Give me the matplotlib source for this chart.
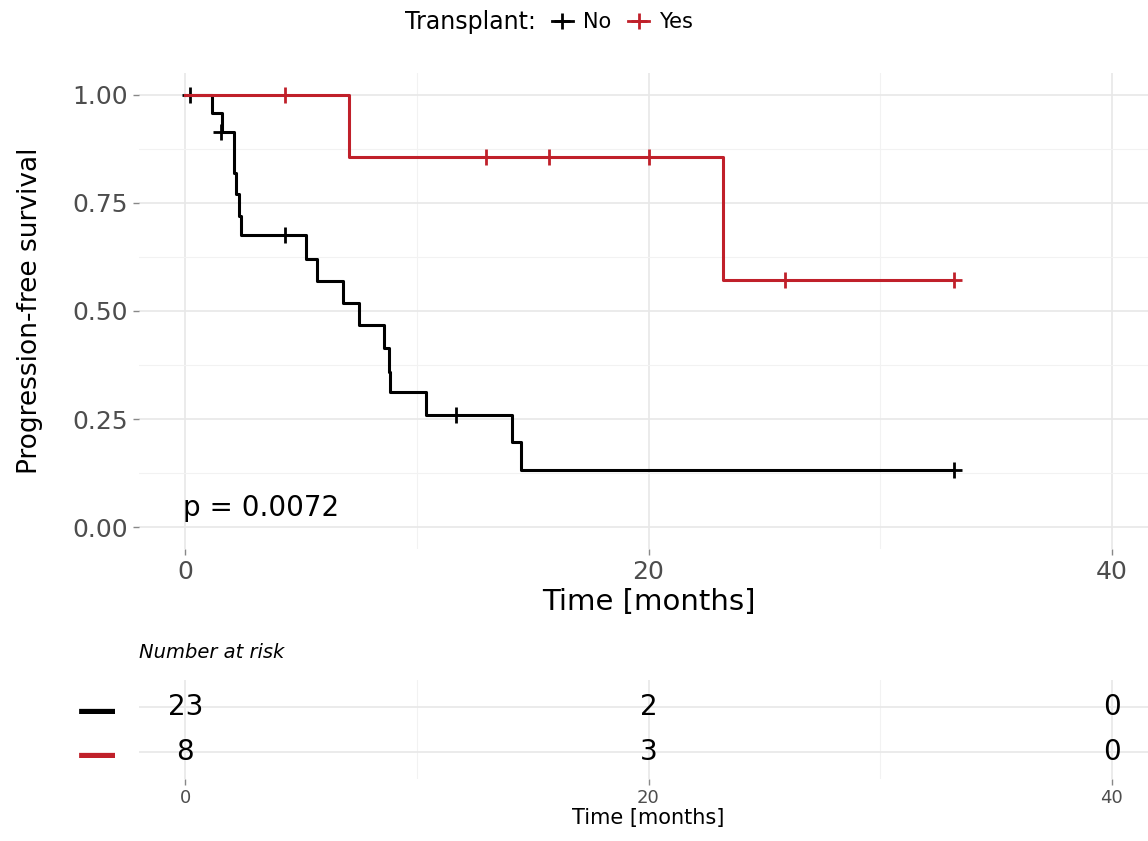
import matplotlib.pyplot as plt
from matplotlib.lines import Line2D

# Kaplan-Meier step values
no_times = [0, 1.15, 1.6, 2.1, 2.2, 2.3, 2.4, 5.2, 5.7, 6.8, 7.5, 8.6, 8.8, 8.85, 10.4, 14.1, 14.5, 33.2]
no_surv = [1.0, 0.957, 0.913, 0.82, 0.77, 0.72, 0.676, 0.62, 0.57, 0.518, 0.467, 0.414, 0.36, 0.3125, 0.259, 0.197, 0.132, 0.132]
no_cens_t = [0.2, 1.55, 4.3, 11.7, 33.2]
no_cens_s = [1.0, 0.913, 0.676, 0.259, 0.132]

yes_times = [0, 7.05, 23.2, 33.2]
yes_surv = [1.0, 0.857, 0.571, 0.571]
yes_cens_t = [4.3, 13.0, 15.7, 20.0, 25.9, 33.2]
yes_cens_s = [1.0, 0.857, 0.857, 0.857, 0.571, 0.571]

groups = ['No', 'Yes']
colors = ['#000000', '#c0202a']
risk_times = [0, 20, 40]
risk_no = [23, 2, 0]
risk_yes = [8, 3, 0]
p_text = 'p = 0.0072'

W, H = 1148, 841
fig = plt.figure(figsize=(W / 100, H / 100), dpi=100)

def box(l, t, r, b):
    return [l / W, 1 - b / H, (r - l) / W, (b - t) / H]

grid_major = '#e8e8e8'
grid_minor = '#f2f2f2'
tick_col = '#4d4d4d'

# main survival panel
ax = fig.add_axes(box(139, 73, 1158, 549))
ax.set_xlim(-2, 42)
ax.set_ylim(-0.05, 1.05)
for s in ax.spines.values():
    s.set_visible(False)
ax.set_xticks([0, 20, 40])
ax.set_xticks([10, 30], minor=True)
ax.set_yticks([0, 0.25, 0.5, 0.75, 1.0])
ax.set_yticklabels(['0.00', '0.25', '0.50', '0.75', '1.00'])
ax.set_yticks([0.125, 0.375, 0.625, 0.875], minor=True)
ax.grid(which='major', color=grid_major, lw=1.2)
ax.grid(which='minor', color=grid_minor, lw=0.8)
ax.set_axisbelow(True)
ax.tick_params(which='major', length=4, width=1, color='#888888', labelcolor=tick_col, pad=4)
ax.tick_params(axis='y', labelsize=18)
ax.tick_params(axis='x', labelsize=18)
ax.tick_params(which='minor', length=0)

ax.step(no_times, no_surv, where='post', color=colors[0], lw=2.2)
ax.plot(no_cens_t, no_cens_s, ls='none', marker='+', ms=12, mew=2, color=colors[0])
ax.step(yes_times, yes_surv, where='post', color=colors[1], lw=2.2)
ax.plot(yes_cens_t, yes_cens_s, ls='none', marker='+', ms=12, mew=2, color=colors[1])

ax.text(-0.1, 0.045, p_text, fontsize=20, ha='left', va='center')
ax.set_xlabel('Time [months]', fontsize=21, labelpad=3)
ax.set_ylabel('Progression-free survival', fontsize=19)
ax.yaxis.set_label_coords(-0.094, 0.5)

# legend on top
fig.text(536 / W, 1 - 22 / H, 'Transplant:', fontsize=17, ha='right', va='center')
handles = [Line2D([], [], color=c, marker='+', ms=12, mew=2, lw=2) for c in colors]
fig.legend(handles, groups, loc='center left', bbox_to_anchor=(552 / W, 1 - 22 / H),
           ncol=2, frameon=False, fontsize=15, handlelength=1.0, handletextpad=0.5,
           columnspacing=0.8, borderaxespad=0, borderpad=0)

# number at risk table
rt = fig.add_axes(box(139, 680, 1158, 779))
rt.set_xlim(-2, 42)
rt.set_ylim(0.4, 2.6)
for s in rt.spines.values():
    s.set_visible(False)
rt.set_xticks(risk_times)
rt.set_xticks([10, 30], minor=True)
rt.set_yticks([2, 1])
rt.set_yticklabels(['—', '—'], fontsize=29, fontweight='bold')
for lab, c in zip(rt.get_yticklabels(), colors):
    lab.set_color(c)
rt.grid(which='major', color=grid_major, lw=1.2)
rt.grid(which='minor', axis='x', color=grid_minor, lw=0.8)
rt.set_axisbelow(True)
rt.tick_params(axis='y', length=0, pad=16)
rt.tick_params(axis='x', which='major', length=4, width=1, color='#888888', labelcolor=tick_col, labelsize=13, pad=3)
rt.tick_params(which='minor', length=0)
for t, n in zip(risk_times, risk_no):
    rt.text(t, 2, str(n), ha='center', va='center', fontsize=20)
for t, n in zip(risk_times, risk_yes):
    rt.text(t, 1, str(n), ha='center', va='center', fontsize=20)
rt.set_xlabel('Time [months]', fontsize=15, labelpad=1)
rt.text(0, 1.18, 'Number at risk', transform=rt.transAxes, style='italic', fontsize=14,
        ha='left', va='bottom')

fig.savefig('out.png', dpi=100)
